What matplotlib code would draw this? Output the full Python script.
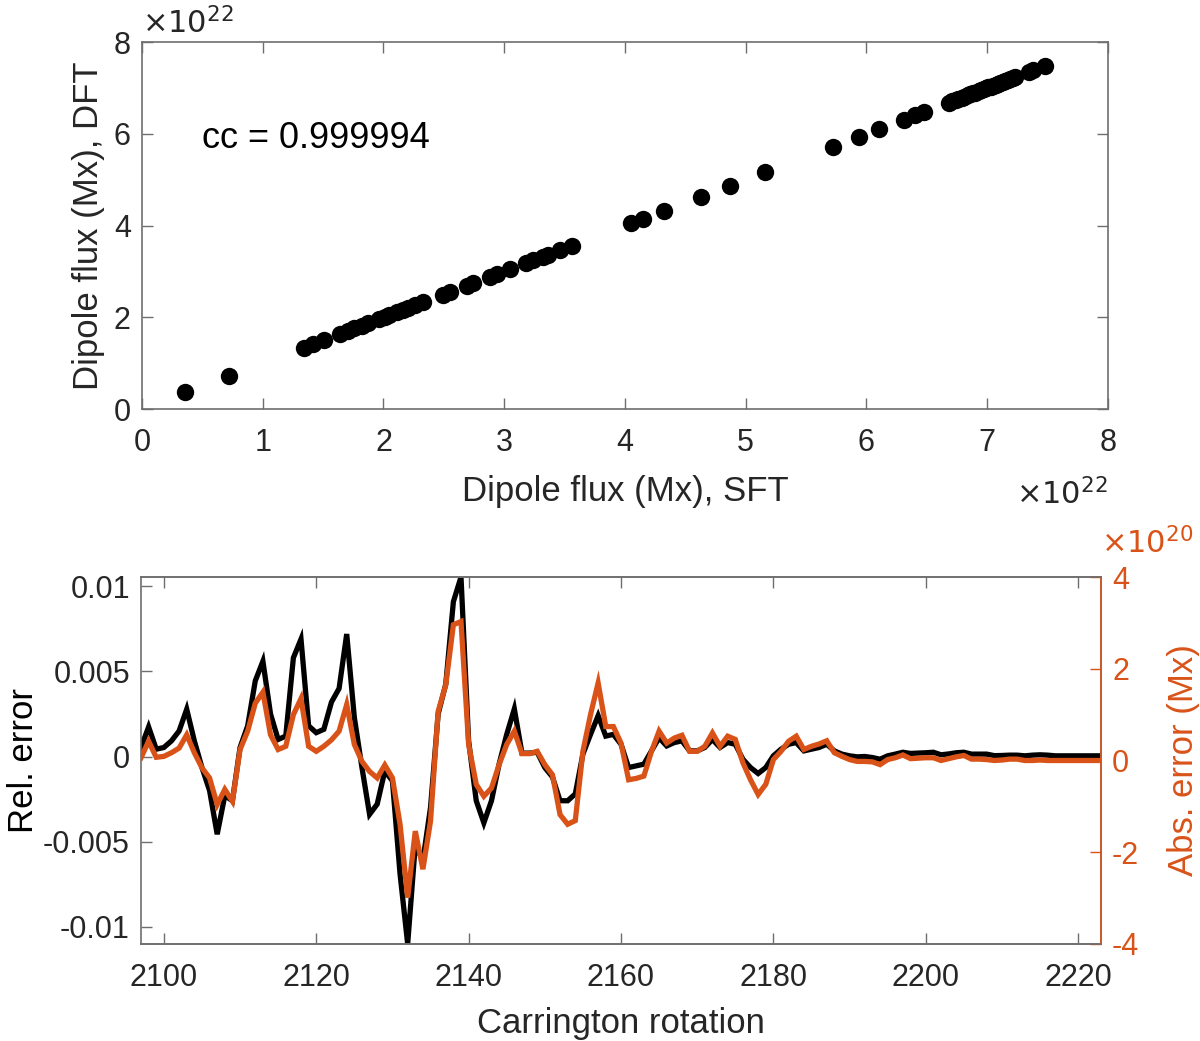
import matplotlib
matplotlib.use('Agg')
import matplotlib.pyplot as plt
import numpy as np

plt.rcParams['font.family'] = ['Liberation Sans', 'DejaVu Sans']

# scatter: dipole flux per rotation, units of 1e22 Mx
sft_flux = [0.36, 0.72, 1.34, 1.42, 1.51, 1.64, 1.71, 1.76, 1.82, 1.87, 1.96, 2.01,
            2.05, 2.11, 2.16, 2.20, 2.26, 2.33, 2.49, 2.55, 2.69, 2.74, 2.88, 2.94,
            3.05, 3.18, 3.24, 3.32, 3.36, 3.46, 3.56, 4.05, 4.15, 4.32, 4.63, 4.87,
            5.16, 5.72, 5.94, 6.10, 6.31, 6.40, 6.48, 6.68, 6.71, 6.74, 6.76, 6.79,
            6.81, 6.84, 6.86, 6.88, 6.90, 6.93, 6.95, 6.97, 6.99, 7.01, 7.03, 7.05,
            7.07, 7.09, 7.11, 7.13, 7.15, 7.17, 7.19, 7.21, 7.23, 7.35, 7.38, 7.48]
dft_flux = [0.36, 0.72, 1.34, 1.42, 1.51, 1.64, 1.71, 1.76, 1.82, 1.87, 1.96, 2.01,
            2.05, 2.11, 2.16, 2.20, 2.26, 2.33, 2.49, 2.55, 2.69, 2.74, 2.88, 2.94,
            3.05, 3.18, 3.24, 3.32, 3.36, 3.46, 3.56, 4.05, 4.15, 4.32, 4.63, 4.87,
            5.16, 5.72, 5.94, 6.10, 6.31, 6.40, 6.48, 6.68, 6.71, 6.74, 6.76, 6.79,
            6.81, 6.84, 6.86, 6.88, 6.90, 6.93, 6.95, 6.97, 6.99, 7.01, 7.03, 7.05,
            7.07, 7.09, 7.11, 7.13, 7.15, 7.17, 7.19, 7.21, 7.23, 7.35, 7.38, 7.48]
cc_text = 'cc = 0.999994'

# time series, CR 2097..2223
rotations = list(range(2097, 2224))
# relative error, units of 1e-3
rel_err = [0.53, 1.74, 0.43, 0.53, 0.92, 1.5, 2.78, 0.92, -0.65, -2.0,
           -4.57, -2.3, -2.6, 0.53, 1.8, 4.45, 5.6, 2.5, 1.0, 1.2,
           5.8, 6.9, 1.8, 1.4, 1.6, 3.2, 4.0, 7.2, 2.3, -0.65,
           -3.4, -2.8, -0.85, -1.43, -6.9, -11.02, -5.2, -6.1, -3.0, 2.5,
           4.25, 9.1, 10.55, 0.92, -2.6, -3.9, -2.6, -0.45, 1.3, 2.8,
           0.2, 0.2, 0.25, -0.65, -1.2, -2.6, -2.6, -2.2, 0.14, 1.3,
           2.4, 1.2, 1.3, 0.72, -0.65, -0.55, -0.45, 0.33, 1.1, 0.62,
           0.82, 0.92, 0.33, 0.33, 0.53, 1.0, 0.53, 0.82, 0.72, -0.16,
           -0.65, -1.0, -0.65, 0.04, 0.43, 0.72, 0.82, 0.33, 0.43, 0.53,
           0.72, 0.33, 0.14, 0.04, -0.02, 0.0, -0.06, -0.16, 0.04, 0.14,
           0.25, 0.18, 0.2, 0.22, 0.25, 0.1, 0.15, 0.22, 0.25, 0.14,
           0.14, 0.14, 0.05, 0.06, 0.08, 0.08, 0.04, 0.08, 0.1, 0.08,
           0.04, 0.04, 0.04, 0.04, 0.04, 0.04, 0.04]
# absolute error, units of 1e20 Mx
abs_err = [0.06, 0.42, 0.07, 0.09, 0.17, 0.27, 0.56, 0.17, -0.16, -0.38,
           -0.96, -0.63, -0.89, 0.24, 0.64, 1.25, 1.49, 0.56, 0.24, 0.31,
           1.0, 1.35, 0.31, 0.2, 0.31, 0.45, 0.64, 1.22, 0.35, -0.02,
           -0.24, -0.38, -0.1, -0.38, -1.39, -2.99, -1.54, -2.37, -1.32, 1.07,
           1.65, 2.96, 3.03, 0.35, -0.52, -0.78, -0.6, -0.09, 0.35, 0.64,
           0.15, 0.15, 0.2, -0.09, -0.31, -1.18, -1.39, -1.31, 0.2, 1.0,
           1.69, 0.74, 0.74, 0.38, -0.42, -0.39, -0.34, 0.2, 0.64, 0.38,
           0.49, 0.55, 0.2, 0.2, 0.31, 0.6, 0.31, 0.53, 0.46, -0.05,
           -0.42, -0.74, -0.52, 0.02, 0.2, 0.42, 0.53, 0.24, 0.31, 0.36,
           0.43, 0.17, 0.09, 0.02, -0.02, -0.02, -0.03, -0.09, 0.02, 0.06,
           0.12, 0.04, 0.05, 0.06, 0.06, 0.0, 0.04, 0.08, 0.11, 0.03,
           0.03, 0.02, 0.0, 0.01, 0.03, 0.03, 0.0, 0.0, 0.01, 0.0,
           0.0, 0.0, 0.0, 0.0, 0.0, 0.0, 0.0]

text_col = '#262626'
axis_col = '#6e6e6e'
orange = '#D95319'
tick_fs = 22
label_fs = 25

fig = plt.figure(figsize=(12, 10.41), dpi=100)

# ---- top: scatter
ax1 = fig.add_axes([0.1183, 0.6071, 0.8050, 0.3525])
ax1.plot(sft_flux, dft_flux, 'o', color='black', markersize=12.5, markeredgewidth=0)
ax1.set_xlim(0, 8)
ax1.set_ylim(0, 8)
ax1.set_xticks(range(0, 9))
ax1.set_yticks([0, 2, 4, 6, 8])
ax1.set_xlabel('Dipole flux (Mx), SFT', fontsize=label_fs, color=text_col, labelpad=12)
ax1.set_ylabel('Dipole flux (Mx), DFT', fontsize=label_fs, color=text_col, labelpad=6)
ax1.text(0.5, 5.9, cc_text, fontsize=26, va='center', ha='left', color='black')
ax1.text(0.0, 1.005, r'$\times10^{22}$', transform=ax1.transAxes, fontsize=tick_fs,
         color=text_col, ha='left', va='bottom')
ax1.text(1.0, -0.19, r'$\times10^{22}$', transform=ax1.transAxes, fontsize=tick_fs,
         color=text_col, ha='right', va='top')
ax1.tick_params(direction='in', length=8, width=1, colors=axis_col, labelcolor=text_col,
                labelsize=tick_fs, top=True, right=True, pad=8)
ax1.tick_params(axis='x', pad=14)
for s in ax1.spines.values():
    s.set_color(axis_col)
    s.set_linewidth(1.2)

# ---- bottom: errors
ax2 = fig.add_axes([0.1175, 0.0932, 0.8000, 0.3525])
ax3 = ax2.twinx()
rel = np.array(rel_err) * 1e-3
ax2.plot(rotations, rel, color='black', linewidth=3.8, solid_joinstyle='miter')
ax3.plot(rotations, abs_err, color=orange, linewidth=3.8, solid_joinstyle='miter')
ax2.set_xlim(2097, 2223)
ax2.set_ylim(-0.01102, 0.01055)
ax3.set_ylim(-4, 4)
ax2.set_xticks(range(2100, 2221, 20))
ax2.set_yticks([-0.01, -0.005, 0, 0.005, 0.01])
ax2.set_yticklabels(['-0.01', '-0.005', '0', '0.005', '0.01'])
ax3.set_yticks([-4, -2, 0, 2, 4])
ax3.set_yticklabels(['-4', '-2', '0', '2', '4'])
ax2.set_xlabel('Carrington rotation', fontsize=label_fs, color=text_col, labelpad=10)
ax2.set_ylabel('Rel. error', fontsize=label_fs, color='black', labelpad=2)
ax3.set_ylabel('Abs. error (Mx)', fontsize=label_fs, color=orange, labelpad=20)
ax3.text(1.0, 1.045, r'$\times10^{20}$', transform=ax3.transAxes, fontsize=tick_fs,
         color=orange, ha='left', va='bottom')
ax2.tick_params(direction='in', length=8, width=1, colors=axis_col, labelcolor=text_col,
                labelsize=tick_fs, top=True, pad=8)
ax2.tick_params(axis='x', pad=14)
ax3.tick_params(axis='y', direction='in', length=8, width=1, colors=orange,
                labelcolor=orange, labelsize=tick_fs, pad=8)
for s in ax2.spines.values():
    s.set_color(axis_col)
    s.set_linewidth(1.2)
for name, s in ax3.spines.items():
    s.set_color(axis_col)
    s.set_linewidth(1.2)
ax3.spines['right'].set_color(orange)
ax3.spines['left'].set_visible(False)

fig.savefig('out.png', dpi=100)
